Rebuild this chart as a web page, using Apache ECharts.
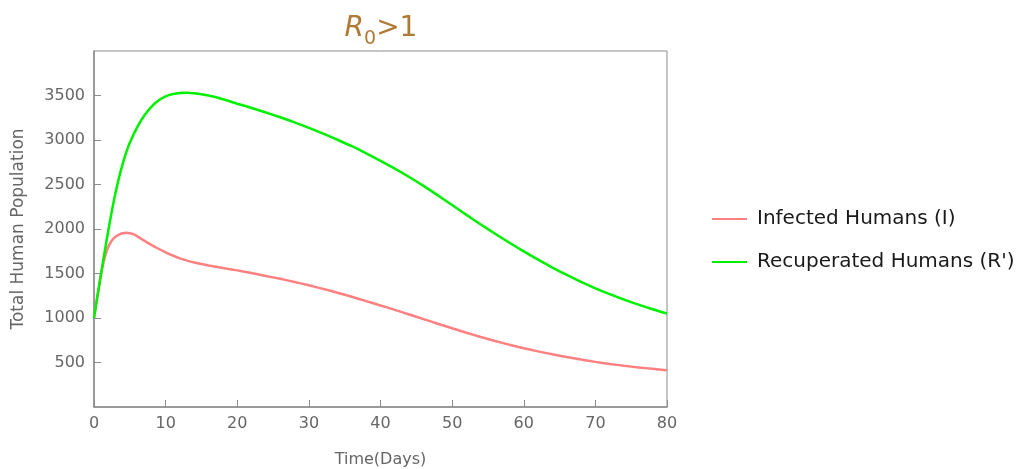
<!DOCTYPE html>
<html>
<head>
<meta charset="utf-8">
<script src="https://cdn.jsdelivr.net/npm/echarts@6/dist/echarts.min.js"></script>
<style>html,body{margin:0;padding:0;background:#fff}#c{width:1034px;height:469px}</style>
</head>
<body>
<div id="c"></div>
<script>
// Time (days) and series values
var infectedT = [0, 0.5, 1, 1.5, 2, 2.5, 3, 3.5, 4, 4.5, 5, 5.5, 6, 7, 8, 9, 10, 11, 12, 13, 14, 15, 16, 18, 20, 22, 24, 26, 28, 30, 32, 34, 36, 38, 40, 42, 44, 46, 48, 50, 52, 54, 56, 58, 60, 62, 64, 66, 68, 70, 72, 74, 76, 78, 80];
var infectedV = [1000, 1255, 1500, 1680, 1800, 1870, 1912, 1937, 1952, 1957, 1953, 1942, 1920, 1870, 1822, 1778, 1738, 1702, 1670, 1645, 1624, 1606, 1590, 1562, 1535, 1505, 1473, 1440, 1405, 1367, 1327, 1284, 1238, 1190, 1141, 1091, 1040, 988, 936, 885, 835, 787, 742, 700, 661, 625, 592, 561, 533, 507, 484, 463, 445, 429, 414];
var recupT = [0, 0.5, 1, 1.5, 2, 2.5, 3, 3.5, 4, 4.5, 5, 6, 7, 8, 9, 10, 11, 12, 13, 14, 15, 16, 18, 20, 22, 24, 26, 28, 30, 32, 34, 36, 38, 40, 42, 44, 46, 48, 50, 52, 54, 56, 58, 60, 62, 64, 66, 68, 70, 72, 74, 76, 78, 80];
var recupV = [1000, 1255, 1505, 1750, 1985, 2205, 2405, 2580, 2730, 2860, 2970, 3140, 3272, 3373, 3444, 3490, 3516, 3529, 3531, 3525, 3514, 3499, 3458, 3408, 3360, 3309, 3255, 3198, 3137, 3072, 3003, 2930, 2850, 2766, 2678, 2584, 2484, 2378, 2269, 2159, 2051, 1946, 1845, 1748, 1655, 1567, 1484, 1406, 1334, 1268, 1207, 1151, 1099, 1051];
var seriesNames = ['Infected Humans (I)', "Recuperated Humans (R')"];
var xTicks = {min: 0, max: 80, step: 10};
var yTicks = {min: 0, max: 4000, step: 500};

function pairs(t, v) { return t.map(function (x, i) { return [x, v[i]]; }); }

var gray = '#8c8c8c';
var labelColor = '#666';
var font = 'DejaVu Sans';
var chart = echarts.init(document.getElementById('c'));
chart.setOption({
  animation: false,
  title: {
    text: '{r|R}{s|0}{n|>1}',
    left: 376,
    top: 4,
    textAlign: 'center',
    textStyle: {
      fontWeight: 'normal',
      rich: {
        r: {fontFamily: font, fontSize: 28, fontStyle: 'italic', fontWeight: 'normal', color: '#b07a36', lineHeight: 40, verticalAlign: 'middle'},
        s: {fontFamily: font, fontSize: 19, fontWeight: 'normal', color: '#b07a36', lineHeight: 40, verticalAlign: 'bottom'},
        n: {fontFamily: font, fontSize: 28, fontWeight: 'normal', color: '#b07a36', lineHeight: 40, verticalAlign: 'middle'}
      }
    }
  },
  legend: {
    orient: 'vertical',
    left: 707,
    top: 204,
    itemWidth: 35,
    itemHeight: 14,
    itemGap: 23,
    icon: 'path://M0,6 L35,6 L35,8 L0,8 Z',
    textStyle: {fontFamily: font, fontSize: 20, color: '#1a1a1a', padding: [0, 0, 0, 5]},
    data: seriesNames
  },
  grid: {left: 94, right: 367, top: 51, bottom: 62, outerBoundsMode: 'none', containLabel: false,
    show: true, borderColor: gray, borderWidth: 1, backgroundColor: 'transparent'},
  xAxis: {
    type: 'value', min: xTicks.min, max: xTicks.max, interval: xTicks.step,
    name: 'Time(Days)', nameLocation: 'middle', nameGap: 45,
    nameTextStyle: {fontFamily: font, fontSize: 16, color: labelColor},
    axisLine: {show: true, lineStyle: {color: gray, width: 1.5}},
    axisTick: {show: true, inside: true, length: 7, lineStyle: {color: gray, width: 1}},
    axisLabel: {fontFamily: font, fontSize: 16, color: labelColor, margin: 9},
    splitLine: {show: false}
  },
  yAxis: {
    type: 'value', min: yTicks.min, max: yTicks.max, interval: yTicks.step,
    name: 'Total Human Population', nameLocation: 'middle', nameGap: 67,
    nameTextStyle: {fontFamily: font, fontSize: 17, color: labelColor},
    axisLine: {show: true, lineStyle: {color: gray, width: 1.5}},
    axisTick: {show: true, inside: true, length: 7, lineStyle: {color: gray, width: 1}},
    axisLabel: {fontFamily: font, fontSize: 16, color: labelColor, margin: 9, showMinLabel: false, showMaxLabel: false,
      formatter: function (v) { return String(v); }},
    splitLine: {show: false}
  },
  series: [
    {name: seriesNames[0], type: 'line', data: pairs(infectedT, infectedV), symbol: 'none', smooth: 0.3,
     lineStyle: {color: '#ff8080', width: 2.5}, itemStyle: {color: '#ff8080'}},
    {name: seriesNames[1], type: 'line', data: pairs(recupT, recupV), symbol: 'none', smooth: 0.3,
     lineStyle: {color: '#00f000', width: 2.5}, itemStyle: {color: '#00f000'}}
  ]
});
</script>
</body>
</html>
